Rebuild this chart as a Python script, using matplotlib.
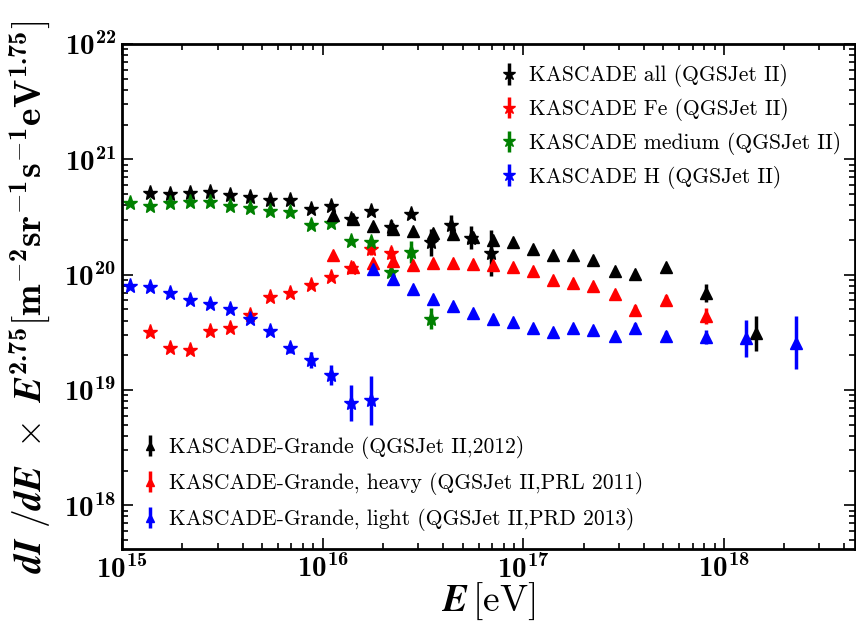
import matplotlib
matplotlib.use('Agg')
import matplotlib.pyplot as plt
import numpy as np
from matplotlib.ticker import FuncFormatter, LogLocator

plt.rcParams['mathtext.fontset'] = 'custom'
plt.rcParams['mathtext.rm'] = 'cmr10'
plt.rcParams['mathtext.it'] = 'cmmi10'
plt.rcParams['mathtext.bf'] = 'cmb10'
plt.rcParams['mathtext.bfit'] = 'STIXGeneral:italic:bold'
plt.rcParams['mathtext.fallback'] = 'cm'
plt.rcParams['axes.unicode_minus'] = False

# KASCADE (stars), log10(E/eV) and log10(flux)
e_kas_all = [15.14, 15.24, 15.34, 15.44, 15.54, 15.64, 15.74, 15.84, 15.94, 16.04,
             16.14, 16.24, 16.34, 16.44, 16.54, 16.64, 16.74, 16.84]
f_kas_all = [20.71, 20.70, 20.71, 20.72, 20.69, 20.67, 20.65, 20.65, 20.57, 20.60,
             20.48, 20.55, 20.41, 20.53, 20.28, 20.43, 20.32, 20.19]
d_kas_all = [0.01] * 10 + [0.02, 0.02, 0.065, 0.02, 0.12, 0.09, 0.10, 0.20]

e_kas_fe = [15.14, 15.24, 15.34, 15.44, 15.54, 15.64, 15.74, 15.84, 15.94, 16.04,
            16.14, 16.24, 16.34]
f_kas_fe = [19.50, 19.36, 19.35, 19.51, 19.54, 19.65, 19.81, 19.84, 19.91, 19.98,
            20.06, 20.22, 20.19]
d_kas_fe = [0.01] * 11 + [0.05, 0.05]

e_kas_med = [15.04, 15.14, 15.24, 15.34, 15.44, 15.54, 15.64, 15.74, 15.84, 15.94,
             16.04, 16.14, 16.24, 16.34, 16.44, 16.54]
f_kas_med = [20.62, 20.60, 20.62, 20.63, 20.63, 20.60, 20.58, 20.55, 20.54, 20.43,
             20.45, 20.29, 20.28, 20.02, 20.20, 19.62]
d_kas_med = [0.01] * 12 + [0.02, 0.03, 0.095, 0.09]

e_kas_h = [15.04, 15.14, 15.24, 15.34, 15.44, 15.54, 15.64, 15.74, 15.84, 15.94,
           16.04, 16.14, 16.24]
f_kas_h = [19.90, 19.89, 19.84, 19.78, 19.75, 19.70, 19.62, 19.51, 19.36, 19.26,
           19.13, 18.89, 18.91]
d_kas_h = [0.01] * 8 + [0.04, 0.07, 0.085, 0.155, 0.21]

# KASCADE-Grande (triangles)
e_kg_all = [16.05, 16.15, 16.25, 16.35, 16.45, 16.55, 16.65, 16.75, 16.85, 16.95,
            17.05, 17.15, 17.25, 17.35, 17.46, 17.56, 17.71, 17.91, 18.16]
f_kg_all = [20.52, 20.48, 20.42, 20.40, 20.38, 20.36, 20.35, 20.33, 20.30, 20.28,
            20.22, 20.17, 20.17, 20.13, 20.03, 20.01, 20.07, 19.84, 19.49]
d_kg_all = [0.01] * 17 + [0.075, 0.155]

e_kg_heavy = [16.05, 16.15, 16.25, 16.35, 16.45, 16.55, 16.65, 16.75, 16.85, 16.95,
              17.05, 17.15, 17.25, 17.35, 17.46, 17.56, 17.71, 17.91]
f_kg_heavy = [20.17, 20.07, 20.10, 20.12, 20.08, 20.10, 20.10, 20.09, 20.08, 20.07,
              20.03, 19.95, 19.93, 19.90, 19.83, 19.69, 19.78, 19.64]
d_kg_heavy = [0.01] * 15 + [0.05, 0.04, 0.07]

e_kg_light = [16.25, 16.35, 16.45, 16.55, 16.65, 16.75, 16.85, 16.95, 17.05, 17.15,
              17.25, 17.35, 17.46, 17.56, 17.71, 17.91, 18.11, 18.36]
f_kg_light = [20.05, 19.96, 19.88, 19.79, 19.73, 19.67, 19.62, 19.59, 19.54, 19.50,
              19.54, 19.52, 19.47, 19.54, 19.47, 19.46, 19.45, 19.41]
d_kg_light = [0.01] * 13 + [0.04, 0.04, 0.06, 0.16, 0.23]

kas_series = [
    (e_kas_all, f_kas_all, d_kas_all, 'black', 'KASCADE all (QGSJet II)'),
    (e_kas_fe, f_kas_fe, d_kas_fe, 'red', 'KASCADE Fe (QGSJet II)'),
    (e_kas_med, f_kas_med, d_kas_med, 'green', 'KASCADE medium (QGSJet II)'),
    (e_kas_h, f_kas_h, d_kas_h, 'blue', 'KASCADE H (QGSJet II)'),
]
kg_series = [
    (e_kg_all, f_kg_all, d_kg_all, 'black', 'KASCADE-Grande (QGSJet II,2012)'),
    (e_kg_heavy, f_kg_heavy, d_kg_heavy, 'red', 'KASCADE-Grande, heavy (QGSJet II,PRL 2011)'),
    (e_kg_light, f_kg_light, d_kg_light, 'blue', 'KASCADE-Grande, light (QGSJet II,PRD 2013)'),
]


def draw(ax, series, marker, ms):
    handles = []
    for e, f, d, c, lab in series:
        x = 10 ** np.array(e)
        y = 10 ** np.array(f)
        d = np.array(d)
        yerr = [y - 10 ** (np.array(f) - d), 10 ** (np.array(f) + d) - y]
        h = ax.errorbar(x, y, yerr=yerr, fmt=marker, color=c, ms=ms, mec=c,
                        elinewidth=2.5, capsize=0, label=lab)
        handles.append(h)
    return handles


fig = plt.figure(figsize=(8.56, 6.30), dpi=100)
ax = fig.add_axes([0.1425, 0.129, 0.856, 0.801])

h_kas = draw(ax, kas_series, '*', 11)
h_kg = draw(ax, kg_series, '^', 8)

ax.set_xscale('log')
ax.set_yscale('log')
ax.set_xlim(1e15, 4.5e18)
ax.set_ylim(4.2e17, 1e22)

fmt = FuncFormatter(lambda v, p: r'$\mathbf{10^{%d}}$' % round(np.log10(v)))
ax.xaxis.set_major_formatter(fmt)
ax.yaxis.set_major_formatter(fmt)
ax.xaxis.set_major_locator(LogLocator(base=10, numticks=10))
ax.yaxis.set_major_locator(LogLocator(base=10, numticks=10))
ax.tick_params(which='both', direction='in', top=True, right=True, width=1.2)
ax.tick_params(which='major', length=8, labelsize=21, pad=4)
ax.tick_params(which='minor', length=4)
for s in ax.spines.values():
    s.set_linewidth(2)

ax.set_xlabel(r'$\mathbfit{E}\,[\mathrm{eV}]$', fontsize=27, labelpad=-2)
ax.set_ylabel(r'$\mathbfit{dI}\ /\mathbfit{dE}\ \times\ \mathbfit{E}^{\mathbf{2.75}}'
              r'[\mathbf{m^{-2}sr^{-1}s^{-1}eV^{1.75}}]$',
              fontsize=27, labelpad=8)

leg_prop = {'family': 'cmr10', 'size': 15.5}
leg1 = ax.legend(handles=h_kas, loc='upper left', bbox_to_anchor=(0.514, 0.96),
                 frameon=False, prop=leg_prop, handlelength=1.0,
                 handletextpad=0.4, labelspacing=0.5, borderpad=0,
                 borderaxespad=0, markerscale=0.8)
ax.add_artist(leg1)
ax.legend(handles=h_kg, loc='lower left', bbox_to_anchor=(0.023, 0.035),
          frameon=False, prop=leg_prop, handlelength=1.0,
          handletextpad=0.4, labelspacing=0.6, borderpad=0,
          borderaxespad=0, markerscale=0.8)

fig.savefig('out.png', dpi=100)
